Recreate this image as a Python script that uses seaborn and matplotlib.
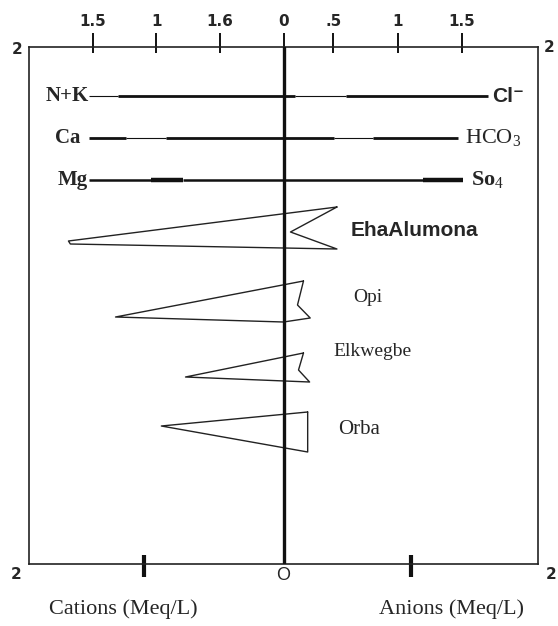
import pandas as pd
import seaborn as sns
from matplotlib import pyplot as plt

# top scale ticks (meq/L, cations to the left of 0, anions to the right)
top_tick_pos = [-1.5, -1.0, -0.5, 0.0, 0.39, 0.90, 1.40]
top_tick_labels = ['1.5', '1', '1.6', '0', '.5', '1', '1.5']
bottom_tick_pos = [-1.1, 1.0]

# ion reference lines: segment breakpoints along the line
ion_rows = [4.9, 9.1, 13.3]
cation_names = ['N+K', 'Ca', 'Mg']
anion_names = ['Cl\u207b', 'HCO$_3$', 'So$_4$']
nk_breaks = [-1.525, -1.30, 0.094, 0.495, 1.61]
ca_breaks = [-1.525, -1.234, -0.927, 0.40, 0.707, 1.375]
mg_breaks = [-1.525, -1.04, -0.79, 1.10, 1.41]

# stiff polygons per station
stations = ['EhaAlumona', 'Opi', 'Elkwegbe', 'Orba']
eha_x = [0.42, -1.69, -1.675, 0.42, 0.055, 0.42]
eha_y = [16.0, 19.4, 19.7, 20.2, 18.5, 16.0]
opi_x = [0.157, -1.32, 0.0, 0.21, 0.11, 0.157]
opi_y = [23.4, 27.0, 27.5, 27.1, 25.8, 23.4]
elk_x = [0.157, -0.77, 0.205, 0.118, 0.157]
elk_y = [30.6, 33.0, 33.5, 32.3, 30.6]
orba_x = [0.19, -0.96, 0.19, 0.19]
orba_y = [36.5, 37.9, 40.5, 36.5]

rows = []
for name, xs, ys in zip(stations, [eha_x, opi_x, elk_x, orba_x], [eha_y, opi_y, elk_y, orba_y]):
    for i, (x, y) in enumerate(zip(xs, ys)):
        rows.append({'station': name, 'order': i, 'x': x, 'y': y})
poly_df = pd.DataFrame(rows)

sns.set_theme(style='white')
plt.rcParams['mathtext.fontset'] = 'custom'
plt.rcParams['mathtext.rm'] = 'Liberation Serif'
plt.rcParams['mathtext.it'] = 'Liberation Serif'
plt.rcParams['mathtext.bf'] = 'Liberation Serif:bold'

fig = plt.figure(figsize=(5.58, 6.26), dpi=100)
ax = fig.add_axes([29 / 558, 1 - 564 / 626, 509 / 558, 517 / 626])
ax.set_xlim(-2, 2)
ax.set_ylim(51.7, 0)

for side in ['left', 'right', 'top', 'bottom']:
    ax.spines[side].set_visible(True)
    ax.spines[side].set_color('#222222')
    ax.spines[side].set_linewidth(1.2)

# center line
ax.axvline(0, color='#111111', lw=2.4, zorder=3)

# ion lines with thin/thick pieces
thin, thick, heavy = 0.8, 2.0, 3.2
styles = [[thin, thick, thin, thick],
          [thick, thin, thick, thin, thick],
          [1.8, heavy, 1.8, heavy]]
for y, breaks, widths in zip(ion_rows, [nk_breaks, ca_breaks, mg_breaks], styles):
    for x0, x1, w in zip(breaks[:-1], breaks[1:], widths):
        ax.plot([x0, x1], [y, y], color='#111111', lw=w, solid_capstyle='butt')

sns.lineplot(data=poly_df, x='x', y='y', units='station', estimator=None,
             sort=False, color='#222222', lw=1.0, ax=ax, legend=False)

serif = ['Liberation Serif', 'DejaVu Serif']
sans = ['Liberation Sans', 'DejaVu Sans']

ax.text(-1.53, ion_rows[0], cation_names[0], ha='right', va='center', fontsize=15,
        fontweight='bold', family=serif)
ax.text(-1.60, ion_rows[1], cation_names[1], ha='right', va='center', fontsize=15,
        fontweight='bold', family=serif)
ax.text(-1.54, ion_rows[2], cation_names[2], ha='right', va='center', fontsize=15,
        fontweight='bold', family=serif)
ax.text(1.64, ion_rows[0], anion_names[0], ha='left', va='center', fontsize=15,
        fontweight='bold', family=sans)
ax.text(1.43, ion_rows[1], anion_names[1], ha='left', va='center', fontsize=16,
        family=serif)
ax.text(1.47, ion_rows[2], anion_names[2], ha='left', va='center', fontsize=16,
        fontweight='bold', family=serif)

# station labels
ax.text(0.53, 18.3, stations[0], ha='left', va='center', fontsize=15,
        fontweight='bold', family=sans)
ax.text(0.55, 25.1, stations[1], ha='left', va='center', fontsize=14, family=serif)
ax.text(0.39, 30.5, stations[2], ha='left', va='center', fontsize=14, family=serif)
ax.text(0.43, 38.3, stations[3], ha='left', va='center', fontsize=15, family=serif)

# top scale
ax.xaxis.set_ticks_position('top')
ax.set_xticks(top_tick_pos)
ax.set_xticklabels(top_tick_labels, fontsize=11, fontweight='heavy', family='DejaVu Sans')
ax.xaxis.remove_overlapping_locs = False
ax.set_xticks(top_tick_pos, minor=True)
ax.tick_params(axis='x', which='major', direction='out', length=10, width=1.4,
               color='#111111', pad=3, top=True, bottom=False)
ax.tick_params(axis='x', which='minor', direction='in', length=4, width=1.4,
               color='#111111', top=True, bottom=False)
ax.set_yticks([])
ax.set_xlabel('')
ax.set_ylabel('')

# bottom ticks
for x in bottom_tick_pos:
    ax.plot([x, x], [50.8, 53.0], color='#111111', lw=3, clip_on=False,
            solid_capstyle='butt')

# corner and axis labels
for x, y in [(-2.09, 0.3), (2.09, 0.1), (-2.10, 52.8), (2.10, 52.8)]:
    ax.text(x, y, '2', ha='center', va='center', fontsize=11, fontweight='bold',
            family='DejaVu Sans', clip_on=False)
ax.text(0.0, 52.9, 'O', ha='center', va='center', fontsize=13, family=sans, clip_on=False)
ax.text(-1.26, 56.2, 'Cations (Meq/L)', ha='center', va='center', fontsize=16,
        family=serif, clip_on=False)
ax.text(1.32, 56.2, 'Anions (Meq/L)', ha='center', va='center', fontsize=16,
        family=serif, clip_on=False)

fig.savefig('out.png', dpi=100, facecolor='white')
